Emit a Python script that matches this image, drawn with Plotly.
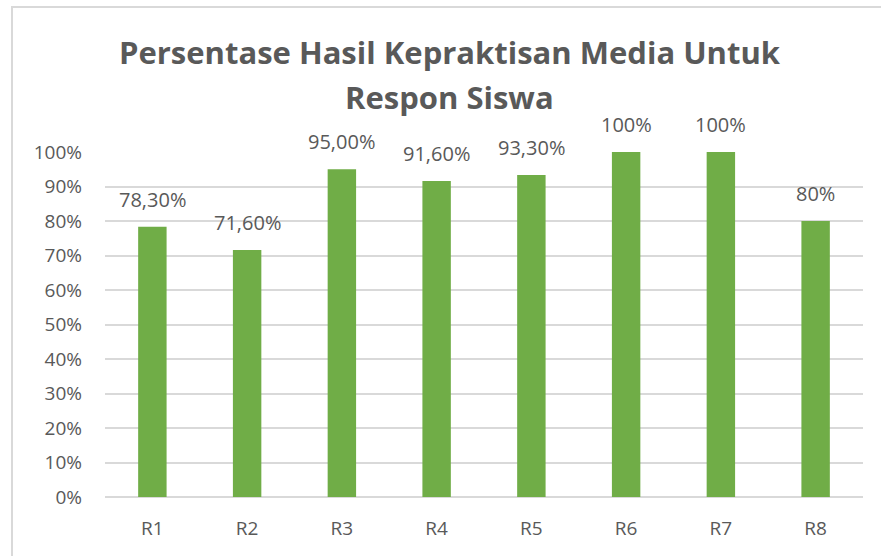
import plotly.graph_objects as go

categories = ["R1", "R2", "R3", "R4", "R5", "R6", "R7", "R8"]
values = [78.3, 71.6, 95.0, 91.6, 93.3, 100, 100, 80]
labels = ["78,30%", "71,60%", "95,00%", "91,60%", "93,30%", "100%", "100%", "80%"]
y_ticks = list(range(0, 101, 10))
y_ticktext = [f"{t}%" for t in y_ticks]

font_family = "'Open Sans', Calibri, sans-serif"
gray = "#595959"

fig = go.Figure(go.Bar(
    x=categories,
    y=values,
    marker=dict(color="#70AD47", line=dict(width=0)),
    hoverinfo="skip",
))

# data labels, set a bit above each bar like the Excel original
for c, v, t in zip(categories, values, labels):
    fig.add_annotation(x=c, y=v, text=t, showarrow=False, yanchor="bottom",
                       yshift=12, font=dict(size=20, color=gray, family=font_family))

# two-line title
fig.add_annotation(xref="paper", yref="paper", x=0.455, y=1.29, text="<b>Persentase Hasil Kepraktisan Media Untuk</b>",
                   showarrow=False, yanchor="middle", font=dict(size=31, color=gray, family=font_family))
fig.add_annotation(xref="paper", yref="paper", x=0.455, y=1.16, text="<b>Respon Siswa</b>",
                   showarrow=False, yanchor="middle", font=dict(size=31, color=gray, family=font_family))

# chart frame (top and left edges visible)
fig.add_shape(type="rect", xref="paper", yref="paper", x0=-0.1227, x1=1.2, y0=-0.4, y1=1.4203,
              line=dict(color="#d9d9d9", width=2), layer="below")

fig.update_layout(
    width=881, height=556,
    margin=dict(l=105, r=18, t=152, b=59),
    paper_bgcolor="white", plot_bgcolor="white",
    showlegend=False,
    bargap=0.7,
    font=dict(family=font_family, color=gray, size=19),
    xaxis=dict(showline=False, showgrid=False, ticks="", ticklabelstandoff=18,
               tickfont=dict(size=19, color=gray)),
    yaxis=dict(range=[0, 100], tickvals=y_ticks, ticktext=y_ticktext,
               showgrid=True, gridcolor="#d9d9d9", gridwidth=1.5,
               zeroline=True, zerolinecolor="#d9d9d9", zerolinewidth=1.5,
               showline=False, ticks="", ticklabelstandoff=22,
               tickfont=dict(size=19, color=gray)),
)

# drop the browser's default body margin so the figure sits at the page corner
fig.write_html("out.html", config={"displayModeBar": False},
               post_script="document.body.style.margin='0';")
